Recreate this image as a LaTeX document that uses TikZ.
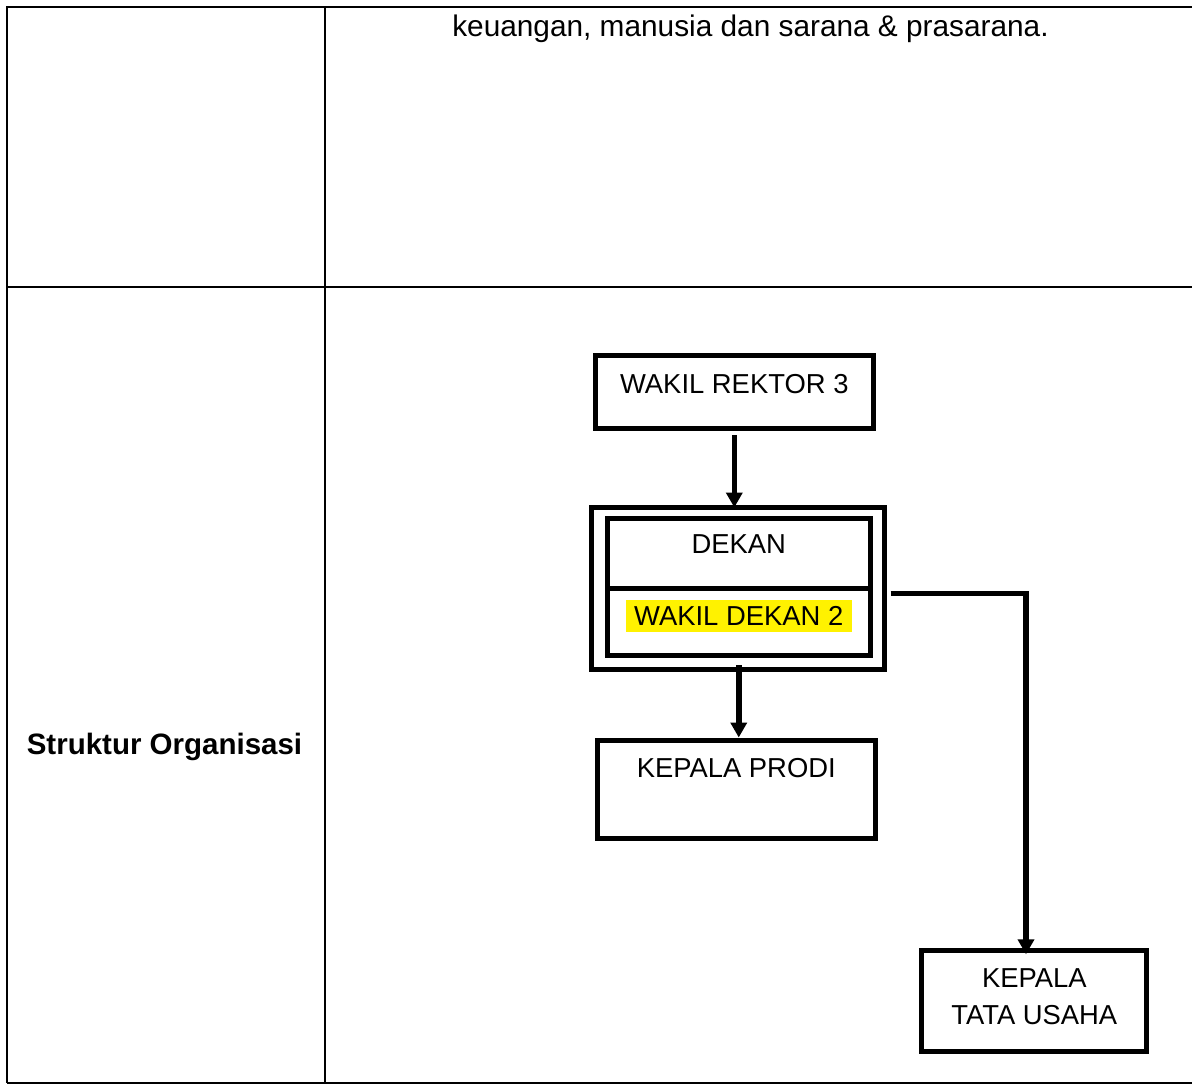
\documentclass[tikz,border=0pt]{standalone}
\usepackage{fontspec}
\setmainfont{Liberation Sans}
\usetikzlibrary{arrows.meta}

\newcommand{\sorot}[1]{{\setlength{\fboxsep}{0pt}\colorbox{yellow}{\rule[-7pt]{0pt}{32pt}\hspace{8.5pt}#1\hspace{8.5pt}}}}

\begin{document}
\begin{tikzpicture}[x=1pt,y=-1pt,
  kotak/.style={draw,line width=5pt,inner sep=0pt,anchor=base,font=\fontsize{27.4}{37}\selectfont},
  panah/.style={line width=5.5pt,-{Triangle[width=16pt,length=15pt]}},
  garis/.style={line width=2pt},
  tipis/.style={line width=1.2pt}]
\useasboundingbox (0,0) rectangle (1192,1084);
% tabel
\draw[garis] (1192,7) -- (7,7) -- (7,1083);
\draw[garis] (7,287) -- (1192,287);
\draw[tipis] (325,7) -- (325,1083);
\draw[tipis] (7,1083) -- (1192,1083);

\node[anchor=base,font=\fontsize{29.8}{34}\selectfont] (isi) at (750.5,36) {keuangan, manusia dan sarana \& prasarana.};
\node[anchor=base,font=\bfseries\fontsize{29.5}{34}\selectfont] (judul) at (164.5,754) {Struktur Organisasi};

% bagan
\node[kotak,minimum width=278.5pt,text height=37.5pt,text depth=35.3pt] (wr3) at (734.3,393) {WAKIL REKTOR 3};
\node[kotak,anchor=center,minimum width=293pt,minimum height=161.5pt] (dekanbox) at (737.5,588.25) {};
\node[kotak,minimum width=262.5pt,text height=34.7pt,text depth=35pt] (dekan) at (738.75,553) {DEKAN};
\node[kotak,minimum width=262.5pt,text height=37pt,text depth=30.8pt] (wd) at (738.75,625) {\sorot{WAKIL DEKAN 2}};
\node[kotak,minimum width=277.5pt,text height=37pt,text depth=61.5pt] (prodi) at (736.25,777) {KEPALA PRODI};
\node[kotak,align=center,minimum width=225pt,text height=73.2pt,text depth=27.8pt] (ktu) at (1034.3,1024) {KEPALA\\TATA USAHA};

\coordinate (belok) at (1026,593.5);

\draw[panah,shorten <=4.5pt,shorten >=-2.5pt] (wr3.south) -- (wr3.south |- dekanbox.north);
\draw[panah,shorten <=7pt] (wd.south) -- (wd.south |- prodi.north);
\draw[panah,shorten <=4pt,shorten >=-6pt] (dekanbox.east |- belok) -- (belok) -- (belok |- ktu.north);
\end{tikzpicture}
\end{document}
